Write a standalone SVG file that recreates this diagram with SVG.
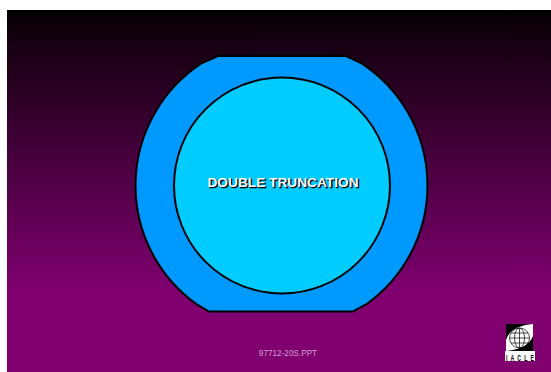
<svg xmlns="http://www.w3.org/2000/svg" width="551" height="372" viewBox="0 0 551 372">
<defs>
<linearGradient id="bg" x1="0" y1="0" x2="0" y2="1">
<stop offset="0" stop-color="#000000"/>
<stop offset="0.03" stop-color="#0c0008"/>
<stop offset="0.78" stop-color="#800070"/>
<stop offset="1" stop-color="#800070"/>
</linearGradient>
</defs>
<style>
.ln{stroke:#000;stroke-width:2}
.t{font-family:"Liberation Sans",Arial,sans-serif}
</style>
<rect width="551" height="372" fill="#fff"/>
<rect x="7" y="10" width="544" height="362" fill="url(#bg)"/>
<g id="outer">
<path class="ln" fill="#0099ff" d="M218 56H346L362 63.700A146 146 0 0 1 367 303.800L353 311.500H209L196 303.800A146 146 0 0 1 201 63.700Z"/>
</g>
<g id="inner">
<circle class="ln" cx="282" cy="185.500" r="108" fill="#00ccff"/>
<text class="t" x="284.300" y="188.300" text-anchor="middle" font-size="13.700" font-weight="700" fill="#000" stroke="#000" stroke-width="0.300">DOUBLE TRUNCATION</text>
<text class="t" x="283" y="187" text-anchor="middle" font-size="13.700" font-weight="700" fill="#fff">DOUBLE TRUNCATION</text>
</g>
<g id="footer">
<text class="t" x="288" y="356" text-anchor="middle" font-size="8.200" fill="#d0a0d0">97712-20S.PPT</text>
</g>
<g id="logo">
<rect x="506" y="324" width="27" height="27" fill="#000"/>
<path d="M506 351V340Q510 326 533 324V336Q528 349 506 351Z" fill="#fff"/>
<g fill="none" stroke="#000" stroke-width="0.7">
<circle cx="519.500" cy="338" r="10"/>
<ellipse cx="519.500" cy="338" rx="5" ry="10"/>
<path d="M519.500 328V348M509.500 338H529.500M511 333H528M511 343H528"/>
</g>
<rect x="505" y="351" width="30" height="10" fill="#fff"/>
<text class="t" transform="translate(506 360.700) scale(1 1.800)" x="0" y="0" font-size="5.200" font-weight="700" textLength="28" fill="#000">I A C L E</text>
</g>
</svg>
